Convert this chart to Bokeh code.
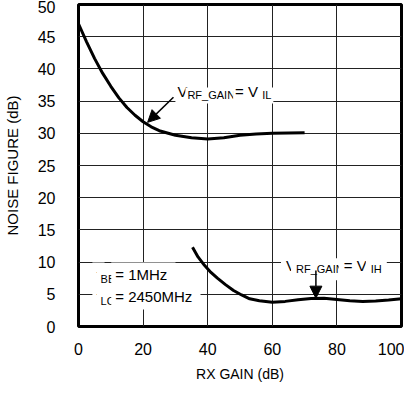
import math
from bokeh.plotting import figure
from bokeh.models import Range1d, Label, Arrow, NormalHead, FixedTicker
from bokeh.embed import file_html
from bokeh.resources import INLINE

# ---- data ----
gain_il = [0, 2.5, 5, 7.5, 10, 12.5, 15, 17.5, 20, 22.5, 25, 30, 35, 40, 45, 50, 55, 60, 65, 70]
nf_il = [47.0, 44.2, 41.6, 39.3, 37.3, 35.5, 34.0, 32.8, 31.8, 31.0, 30.4, 29.7, 29.3, 29.1, 29.3, 29.7, 29.9, 30.0, 30.05, 30.1]

gain_ih = [35.3, 37, 39, 41, 43, 45.5, 48, 50.5, 53, 56, 60, 64, 68, 72, 76, 80, 84, 88, 92, 96, 100]
nf_ih = [12.3, 10.8, 9.5, 8.4, 7.5, 6.5, 5.6, 4.9, 4.3, 4.0, 3.75, 3.9, 4.15, 4.35, 4.4, 4.2, 4.0, 3.9, 3.95, 4.1, 4.3]

x_ticks = [0, 20, 40, 60, 80, 100]
y_ticks = [0, 5, 10, 15, 20, 25, 30, 35, 40, 45, 50]

FONT = "Liberation Sans"
MAIN = 15
SUB = 11

p = figure(width=404, height=384, output_backend="svg", toolbar_location=None,
           x_range=Range1d(0, 100), y_range=Range1d(0, 50),
           min_border_left=74, min_border_right=3, min_border_top=4, min_border_bottom=53)
p.background_fill_color = "white"
p.border_fill_color = "white"
p.outline_line_color = "black"
p.outline_line_width = 3

p.xaxis.ticker = FixedTicker(ticks=x_ticks)
p.yaxis.ticker = FixedTicker(ticks=y_ticks)
for ax in (p.xaxis[0], p.yaxis[0]):
    ax.axis_line_color = None
    ax.major_tick_line_color = None
    ax.minor_tick_line_color = None
    ax.major_label_text_font = FONT
    ax.major_label_text_font_size = "16px"
    ax.major_label_text_color = "black"
    ax.axis_label_text_font = FONT
    ax.axis_label_text_font_style = "normal"
    ax.axis_label_text_color = "black"
p.xaxis.axis_label = "RX GAIN (dB)"
p.yaxis.axis_label = "NOISE FIGURE (dB)"
p.xaxis.axis_label_text_font_size = "14px"
p.yaxis.axis_label_text_font_size = "15px"
p.xaxis.major_label_standoff = 10
p.xaxis.axis_label_standoff = 8
p.yaxis.major_label_standoff = 17
p.yaxis.axis_label_standoff = 14

p.xgrid.ticker = FixedTicker(ticks=x_ticks)
p.ygrid.ticker = FixedTicker(ticks=y_ticks)
for g in (p.xgrid[0], p.ygrid[0]):
    g.grid_line_color = "#222222"
    g.grid_line_width = 1

p.line(gain_il, nf_il, line_color="black", line_width=3)
p.line(gain_ih, nf_ih, line_color="black", line_width=3)

# ---- annotation text with subscripts ----
W = {'V': 667, 'R': 722, 'F': 611, '_': 556, 'G': 778, 'A': 667, 'I': 278, 'N': 722,
     ' ': 278, '=': 584, 'L': 556, 'H': 722, 'f': 278, 'B': 667, 'O': 778, '1': 556,
     'M': 833, 'z': 500, '2': 556, '4': 556, '5': 556, '0': 556}


def tw(s, size):
    return sum(W.get(c, 556) for c in s) / 1000.0 * size


def rich(x, y, parts, pad=3):
    off = 0.0
    for txt, sub in parts:
        size = SUB if sub else MAIN
        lab = Label(x=x, y=y, x_offset=off, y_offset=(-4 if sub else 0), text=txt,
                    text_font=FONT, text_font_size=f"{size}px", text_color="black",
                    text_align="left", text_baseline="alphabetic",
                    background_fill_color="white", padding=pad)
        p.add_layout(lab)
        off += tw(txt, size)


rich(30.0, 36.5, [("V", False), ("RF_GAIN", True), (" = V", False), ("IL", True)], pad=2)
rich(62.7, 9.5, [("V", False), ("RF_GAIN", True), (" = V", False), ("IH", True)], pad=5)
rich(4.3, 8.0, [("f", False), ("BB", True), (" = 1MHz", False)], pad=4)
rich(4.3, 4.6, [("f", False), ("LO", True), (" = 2450MHz", False)], pad=4)

# arrows
p.add_layout(Arrow(x_start=29.4, y_start=35.6, x_end=21.4, y_end=31.7, line_color="black", line_width=1.5,
                   end=NormalHead(size=12, fill_color="black", line_color="black")))
p.add_layout(Arrow(x_start=73.5, y_start=8.7, x_end=73.5, y_end=4.4, line_color="black", line_width=1.5,
                   end=NormalHead(size=12, fill_color="black", line_color="black")))

# watermark
p.add_layout(Label(x=100, y=50, x_offset=4, y_offset=-1, angle=math.pi / 2, text="MAX2820 toc05",
                   text_font=FONT, text_font_size="9px", text_color="#555555",
                   text_align="right", text_baseline="top"))

open("out.html", "w").write(file_html(p, INLINE))
